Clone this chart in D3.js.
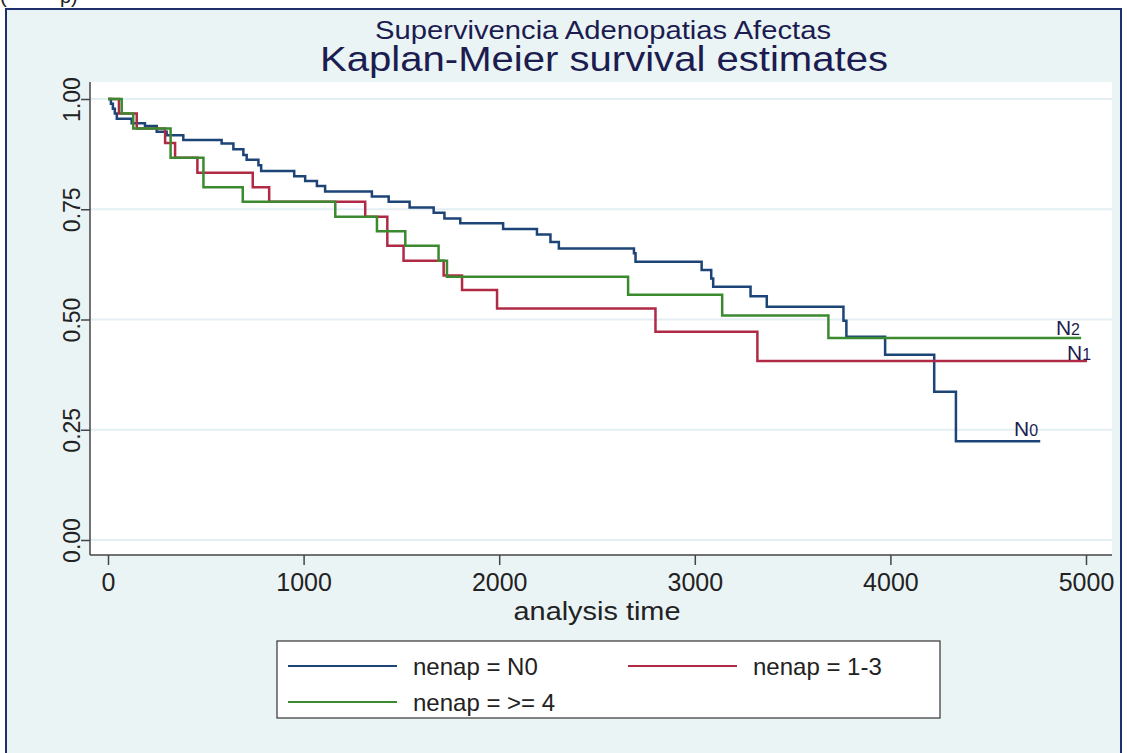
<!DOCTYPE html>
<html>
<head>
<meta charset="utf-8">
<script src="https://cdn.jsdelivr.net/npm/d3@7"></script>
<style>
  body { margin: 0; background: #fff; }
  svg { display: block; font-family: "Liberation Sans", Arial, sans-serif; }
</style>
</head>
<body>
<svg width="1127" height="753"></svg>
<script>
var svg = d3.select("svg"),
  width = +svg.attr("width"),
  height = +svg.attr("height");

// Kaplan-Meier step data (time, survival)
var n0Times = [15, 25, 35, 45, 121, 189, 249, 300, 385, 581, 641, 692, 709, 769, 783, 952, 1008, 1068, 1110, 1349, 1435, 1542, 1665, 1720, 1801, 2020, 2193, 2262, 2305, 2689, 2697, 3035, 3084, 3094, 3285, 3368, 3760, 3775, 3973, 4224, 4335],
  n0Surv = [.989, .978, .967, .955, .945, .939, .926, .918, .907, .899, .886, .873, .862, .850, .837, .825, .814, .803, .790, .779, .767, .754, .742, .729, .718, .705, .693, .676, .661, .650, .631, .612, .593, .574, .553, .529, .497, .461, .420, .336, .224],
  n0End = 4766;

var n1Times = [56, 147, 292, 343, 457, 740, 824, 1315, 1428, 1511, 1716, 1810, 1989, 2799, 3320],
  n1Surv = [.967, .933, .900, .867, .833, .800, .767, .733, .667, .633, .600, .567, .525, .472, .406],
  n1End = 5005;

var n2Times = [70, 129, 320, 488, 689, 1162, 1375, 1520, 1690, 1733, 2659, 3140, 3683],
  n2Surv = [.967, .933, .867, .800, .767, .733, .700, .667, .633, .597, .556, .509, .458],
  n2End = 4975;

var groupNames = ["nenap = N0", "nenap = 1-3", "nenap = >= 4"];
var groupColors = ["#1d4477", "#b02a45", "#3b8a30"];

var xTicks = [0, 1000, 2000, 3000, 4000, 5000];
var yTicks = [0, 0.25, 0.5, 0.75, 1];

// curve end labels: base letter, subscript, time, survival
var endLabels = [
  {base: "N", sub: "2", t: 4846, s: 0.465},
  {base: "N", sub: "1", t: 4903, s: 0.408},
  {base: "N", sub: "0", t: 4632, s: 0.236}
];

function buildPoints(times, surv, end) {
  var pts = [[0, 1]];
  times.forEach(function(t, i) { pts.push([t, surv[i]]); });
  pts.push([end, surv[surv.length - 1]]);
  return pts;
}

var series = [
  buildPoints(n0Times, n0Surv, n0End),
  buildPoints(n1Times, n1Surv, n1End),
  buildPoints(n2Times, n2Surv, n2End)
];

var x = d3.scaleLinear().domain([0, 5000]).range([108, 1086]);
var y = d3.scaleLinear().domain([0, 1]).range([540, 99]);

// outer graph region
svg.append("rect")
  .attr("x", 6).attr("y", 9)
  .attr("width", 1115).attr("height", 760)
  .attr("fill", "#eaf4f5")
  .attr("stroke", "#1f2f6e")
  .attr("stroke-width", 2);

// clipped text at very top-left
svg.append("text").attr("x", 0).attr("y", 3).attr("font-size", 20).attr("fill", "#222").text("(");
svg.append("text").attr("x", 60).attr("y", 3).attr("font-size", 20).attr("fill", "#222").text("p)");

// plot region
svg.append("rect")
  .attr("x", 90).attr("y", 82)
  .attr("width", 1022).attr("height", 473)
  .attr("fill", "#fff");

svg.append("g")
  .selectAll("line")
  .data(yTicks)
  .enter().append("line")
  .attr("x1", 90).attr("x2", 1112)
  .attr("y1", function(d) { return y(d); })
  .attr("y2", function(d) { return y(d); })
  .attr("stroke", "#e4eff3")
  .attr("stroke-width", 2);

// axes
var yAxis = svg.append("g")
  .attr("transform", "translate(90,0)")
  .call(d3.axisLeft(y).tickValues(yTicks).tickFormat(d3.format(".2f")).tickSize(9).tickSizeOuter(0));
yAxis.select(".domain").attr("d", "M0,82V555").attr("stroke", "#444").attr("stroke-width", 1.5);
yAxis.selectAll(".tick line").attr("stroke", "#444").attr("stroke-width", 1.5);
yAxis.selectAll(".tick text")
  .attr("font-size", 23)
  .attr("fill", "#222")
  .attr("font-family", "Liberation Sans, Arial, sans-serif")
  .attr("x", 0).attr("y", 0)
  .attr("dx", 0).attr("dy", 0)
  .attr("text-anchor", "middle")
  .attr("transform", "translate(-10,0) rotate(-90)");

var xAxis = svg.append("g")
  .attr("transform", "translate(0,555)")
  .call(d3.axisBottom(x).tickValues(xTicks).tickFormat(d3.format("d")).tickSize(10).tickSizeOuter(0));
xAxis.select(".domain").attr("d", "M90,0H1112").attr("stroke", "#444").attr("stroke-width", 1.5);
xAxis.selectAll(".tick line").attr("stroke", "#444").attr("stroke-width", 1.5);
xAxis.selectAll(".tick text")
  .attr("font-size", 25)
  .attr("fill", "#222")
  .attr("font-family", "Liberation Sans, Arial, sans-serif")
  .attr("y", 18)
  .attr("dy", "0.71em");

svg.append("text")
  .attr("x", x(2500)).attr("y", 620)
  .attr("text-anchor", "middle")
  .attr("font-size", 26)
  .attr("textLength", 167)
  .attr("lengthAdjust", "spacingAndGlyphs")
  .attr("fill", "#222")
  .text("analysis time");

// titles
svg.append("text")
  .attr("x", 603).attr("y", 39)
  .attr("text-anchor", "middle")
  .attr("font-size", 26)
  .attr("textLength", 456)
  .attr("lengthAdjust", "spacingAndGlyphs")
  .attr("fill", "#1c1c50")
  .text("Supervivencia Adenopatias Afectas");

svg.append("text")
  .attr("x", 604).attr("y", 71)
  .attr("text-anchor", "middle")
  .attr("font-size", 35)
  .attr("textLength", 568)
  .attr("lengthAdjust", "spacingAndGlyphs")
  .attr("fill", "#1c1c50")
  .text("Kaplan-Meier survival estimates");

// survival curves
var line = d3.line()
  .x(function(d) { return x(d[0]); })
  .y(function(d) { return y(d[1]); })
  .curve(d3.curveStepAfter);

svg.append("g")
  .selectAll("path")
  .data(series)
  .enter().append("path")
  .attr("d", line)
  .attr("fill", "none")
  .attr("stroke", function(d, i) { return groupColors[i]; })
  .attr("stroke-width", 2.5);

// N labels
var lab = svg.append("g")
  .selectAll("text")
  .data(endLabels)
  .enter().append("text")
  .attr("x", function(d) { return x(d.t); })
  .attr("y", function(d) { return y(d.s); })
  .attr("font-size", 21)
  .attr("fill", "#1c1c50");
lab.append("tspan").text(function(d) { return d.base; });
lab.append("tspan").attr("font-size", 16).text(function(d) { return d.sub; });

// legend
var legend = svg.append("g");
legend.append("rect")
  .attr("x", 277).attr("y", 641)
  .attr("width", 663).attr("height", 77)
  .attr("fill", "#fff")
  .attr("stroke", "#333")
  .attr("stroke-width", 1.2);

var legendPos = [[288, 666], [628, 666], [288, 702]];
var item = legend.selectAll(".item")
  .data(groupNames)
  .enter().append("g")
  .attr("class", "item")
  .attr("transform", function(d, i) { return "translate(" + legendPos[i][0] + "," + legendPos[i][1] + ")"; });
item.append("line")
  .attr("x1", 0).attr("x2", 109)
  .attr("y1", 0).attr("y2", 0)
  .attr("stroke", function(d, i) { return groupColors[i]; })
  .attr("stroke-width", 2);
item.append("text")
  .attr("x", 125).attr("y", 9)
  .attr("font-size", 24)
  .attr("fill", "#222")
  .text(function(d) { return d; });
</script>
</body>
</html>
